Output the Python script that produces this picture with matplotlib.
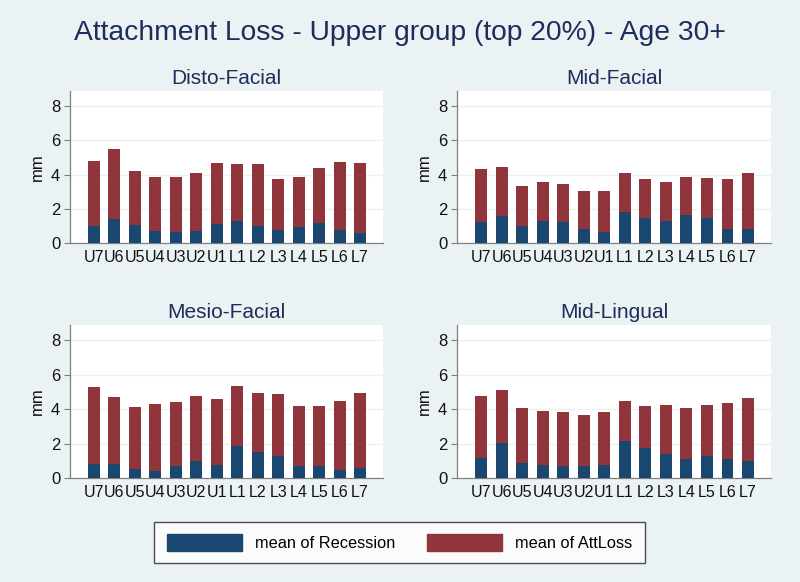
import matplotlib
matplotlib.use("Agg")
import matplotlib.pyplot as plt
from matplotlib.patches import Patch
import numpy as np

plt.rcParams['font.family'] = ['Liberation Sans', 'DejaVu Sans']

teeth = ["U7", "U6", "U5", "U4", "U3", "U2", "U1", "L1", "L2", "L3", "L4", "L5", "L6", "L7"]

disto_rec = [0.97, 1.41, 1.03, 0.68, 0.64, 0.70, 1.09, 1.30, 0.97, 0.78, 0.93, 1.16, 0.78, 0.56]
disto_att = [4.81, 5.52, 4.22, 3.88, 3.84, 4.07, 4.67, 4.59, 4.63, 3.74, 3.84, 4.36, 4.71, 4.67]

midf_rec = [1.24, 1.59, 1.01, 1.26, 1.22, 0.83, 0.64, 1.82, 1.45, 1.30, 1.65, 1.45, 0.83, 0.81]
midf_att = [4.30, 4.46, 3.33, 3.55, 3.43, 3.06, 3.06, 4.11, 3.74, 3.55, 3.86, 3.78, 3.72, 4.07]

mesio_rec = [0.83, 0.83, 0.52, 0.40, 0.71, 0.96, 0.77, 1.83, 1.52, 1.27, 0.67, 0.71, 0.48, 0.60]
mesio_att = [5.26, 4.72, 4.10, 4.32, 4.39, 4.74, 4.59, 5.34, 4.95, 4.87, 4.20, 4.20, 4.45, 4.91]

midl_rec = [1.14, 2.04, 0.89, 0.77, 0.67, 0.67, 0.77, 2.12, 1.77, 1.37, 1.10, 1.25, 1.08, 1.00]
midl_att = [4.76, 5.11, 4.07, 3.91, 3.85, 3.64, 3.82, 4.47, 4.20, 4.24, 4.07, 4.24, 4.34, 4.62]

panel_titles = ["Disto-Facial", "Mid-Facial", "Mesio-Facial", "Mid-Lingual"]
yticks = [0, 2, 4, 6, 8]

BG = "#eaf2f3"
NAVY = "#1a476f"
MAROON = "#90353b"
TITLE_C = "#1e2d5a"
GRID = "#eaf2f3"
AXC = "#7f7f7f"

fig = plt.figure(figsize=(8, 5.82), dpi=100, facecolor=BG)

W, H = 800, 582
def rect(l, t, r, b):
    return [l / W, 1 - b / H, (r - l) / W, (b - t) / H]

positions = [rect(70, 91, 383, 243), rect(457, 91, 771, 243),
             rect(70, 325, 383, 478), rect(457, 325, 771, 478)]
data = [(disto_rec, disto_att), (midf_rec, midf_att),
        (mesio_rec, mesio_att), (midl_rec, midl_att)]

x = np.arange(len(teeth))
for pos, (rec, att), title in zip(positions, data, panel_titles):
    ax = fig.add_axes(pos)
    ax.set_facecolor("white")
    ax.bar(x, att, width=0.58, color=MAROON, zorder=2)
    ax.bar(x, rec, width=0.58, color=NAVY, zorder=3)
    ax.set_xlim(-1.17, 14.12)
    ax.set_ylim(0, 8.88)
    ax.set_yticks(yticks)
    ax.set_yticklabels([str(t) for t in yticks], fontsize=12, color="#111111")
    ax.set_xticks(x)
    ax.set_xticklabels(teeth, fontsize=11.5, color="#111111")
    ax.tick_params(axis='x', length=0, pad=5)
    ax.tick_params(axis='y', length=4, color=AXC, width=0.8, pad=3)
    for yv in [2, 4, 6, 8]:
        ax.axhline(yv, color=GRID, lw=1.0, zorder=1)
    for s in ["top", "right"]:
        ax.spines[s].set_visible(False)
    for s in ["left", "bottom"]:
        ax.spines[s].set_color(AXC)
        ax.spines[s].set_linewidth(0.9)
    ax.set_ylabel("mm", fontsize=12, color="#111111", labelpad=4)
    ax.set_title(title, fontsize=15, color=TITLE_C, pad=5)

fig.text(0.5, 1 - 33 / H, "Attachment Loss - Upper group (top 20%) - Age 30+",
         ha="center", va="center", fontsize=20.3, color=TITLE_C)

handles = [Patch(facecolor=NAVY, edgecolor=NAVY), Patch(facecolor=MAROON, edgecolor=MAROON)]
leg = fig.legend(handles, ["mean of Recession", "mean of AttLoss"], ncol=2,
                 loc="center", bbox_to_anchor=(399.5 / W, 1 - 542.5 / H),
                 fontsize=11.8, handlelength=4.6, handleheight=1.25,
                 handletextpad=0.8, columnspacing=1.9, frameon=True,
                 fancybox=False, edgecolor="#222222", borderpad=0.75,
                 borderaxespad=0)
leg.get_frame().set_linewidth(1.0)
leg.get_frame().set_facecolor("white")

fig.savefig("out.png", dpi=100, facecolor=BG)
